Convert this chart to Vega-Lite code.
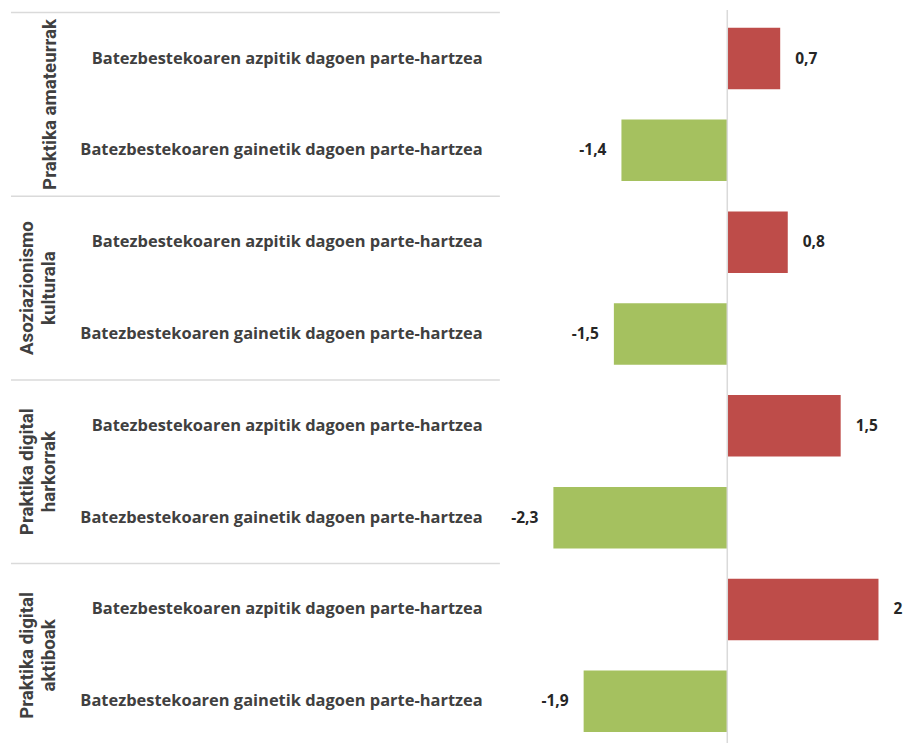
{
  "$schema": "https://vega.github.io/schema/vega-lite/v6.json",
  "width": 906,
  "height": 733,
  "padding": {"left": 0, "right": 0, "top": 10, "bottom": 0},
  "autosize": {"type": "none"},
  "background": "white",
  "config": {
    "view": {"stroke": null},
    "locale": {"number": {"decimal": ",", "thousands": ".", "grouping": [3], "currency": ["", " €"], "minus": "-"}}
  },
  "datasets": {
    "bars": [
      {"id": "1a", "group": "Praktika amateurrak", "row": "Batezbestekoaren azpitik dagoen parte-hartzea", "type": "azpitik", "value": 0.7},
      {"id": "1b", "group": "Praktika amateurrak", "row": "Batezbestekoaren gainetik dagoen parte-hartzea", "type": "gainetik", "value": -1.4},
      {"id": "2a", "group": "Asoziazionismo kulturala", "row": "Batezbestekoaren azpitik dagoen parte-hartzea", "type": "azpitik", "value": 0.8},
      {"id": "2b", "group": "Asoziazionismo kulturala", "row": "Batezbestekoaren gainetik dagoen parte-hartzea", "type": "gainetik", "value": -1.5},
      {"id": "3a", "group": "Praktika digital harkorrak", "row": "Batezbestekoaren azpitik dagoen parte-hartzea", "type": "azpitik", "value": 1.5},
      {"id": "3b", "group": "Praktika digital harkorrak", "row": "Batezbestekoaren gainetik dagoen parte-hartzea", "type": "gainetik", "value": -2.3},
      {"id": "4a", "group": "Praktika digital aktiboak", "row": "Batezbestekoaren azpitik dagoen parte-hartzea", "type": "azpitik", "value": 2},
      {"id": "4b", "group": "Praktika digital aktiboak", "row": "Batezbestekoaren gainetik dagoen parte-hartzea", "type": "gainetik", "value": -1.9}
    ],
    "groups": [
      {"first": "1a", "name": "Praktika amateurrak"},
      {"first": "2a", "name": "Asoziazionismo|kulturala"},
      {"first": "3a", "name": "Praktika digital|harkorrak"},
      {"first": "4a", "name": "Praktika digital|aktiboak"}
    ]
  },
  "layer": [
    {
      "data": {"name": "bars"},
      "mark": {"type": "bar", "height": {"band": 0.67}},
      "encoding": {
        "y": {"field": "id", "type": "nominal", "axis": null,
              "scale": {"domain": ["1a", "1b", "2a", "2b", "3a", "3b", "4a", "4b"], "range": [2.6, 737.2], "paddingInner": 0, "paddingOuter": 0}},
        "x": {"field": "value", "type": "quantitative", "axis": null,
              "scale": {"domain": [-9.62, 2.364], "nice": false, "zero": false}},
        "color": {"field": "type", "type": "nominal", "legend": null,
                  "scale": {"domain": ["azpitik", "gainetik"], "range": ["#BE4C49", "#A5C15F"]}}
      }
    },
    {
      "data": {"values": [{}]},
      "mark": {"type": "rule", "color": "#DADADA", "strokeWidth": 1.5},
      "encoding": {"x": {"datum": 0, "type": "quantitative"}}
    },
    {
      "data": {"name": "groups"},
      "mark": {"type": "rule", "color": "#DADADA", "strokeWidth": 1.5},
      "encoding": {
        "y": {"field": "first", "type": "nominal", "bandPosition": 0},
        "x": {"datum": -9.475, "type": "quantitative"},
        "x2": {"datum": -3.008}
      }
    },
    {
      "data": {"name": "bars"},
      "mark": {"type": "text", "font": "Open Sans", "fontWeight": "bold", "fontSize": 15.5, "color": "#262626", "baseline": "middle",
               "align": {"expr": "datum.value < 0 ? 'right' : 'left'"},
               "dx": {"expr": "datum.value < 0 ? -15 : 15"}},
      "encoding": {
        "y": {"field": "id", "type": "nominal"},
        "x": {"field": "value", "type": "quantitative"},
        "text": {"field": "value", "type": "quantitative", "format": ".1~f"}
      }
    },
    {
      "data": {"name": "bars"},
      "mark": {"type": "text", "font": "Open Sans", "fontWeight": "bold", "fontSize": 16.45, "color": "#404040", "baseline": "middle", "align": "right"},
      "encoding": {
        "y": {"field": "id", "type": "nominal"},
        "x": {"datum": -3.235, "type": "quantitative"},
        "text": {"field": "row", "type": "nominal"}
      }
    },
    {
      "data": {"name": "groups"},
      "transform": [{"filter": "indexof(datum.name, '|') < 0"}],
      "mark": {"type": "text", "font": "Roboto", "fontWeight": "bold", "fontSize": 18.7, "color": "#404040", "baseline": "alphabetic", "align": "center", "angle": 270, "lineBreak": "|", "lineHeight": 22.5},
      "encoding": {
        "y": {"field": "first", "type": "nominal", "bandPosition": 1},
        "x": {"datum": -8.88, "type": "quantitative"},
        "text": {"field": "name", "type": "nominal"}
      }
    },
    {
      "data": {"name": "groups"},
      "transform": [{"filter": "indexof(datum.name, '|') >= 0"}],
      "mark": {"type": "text", "font": "Roboto", "fontWeight": "bold", "fontSize": 18.7, "color": "#404040", "baseline": "alphabetic", "align": "center", "angle": 270, "lineBreak": "|", "lineHeight": 22.5},
      "encoding": {
        "y": {"field": "first", "type": "nominal", "bandPosition": 1},
        "x": {"datum": -9.185, "type": "quantitative"},
        "text": {"field": "name", "type": "nominal"}
      }
    }
  ]
}
